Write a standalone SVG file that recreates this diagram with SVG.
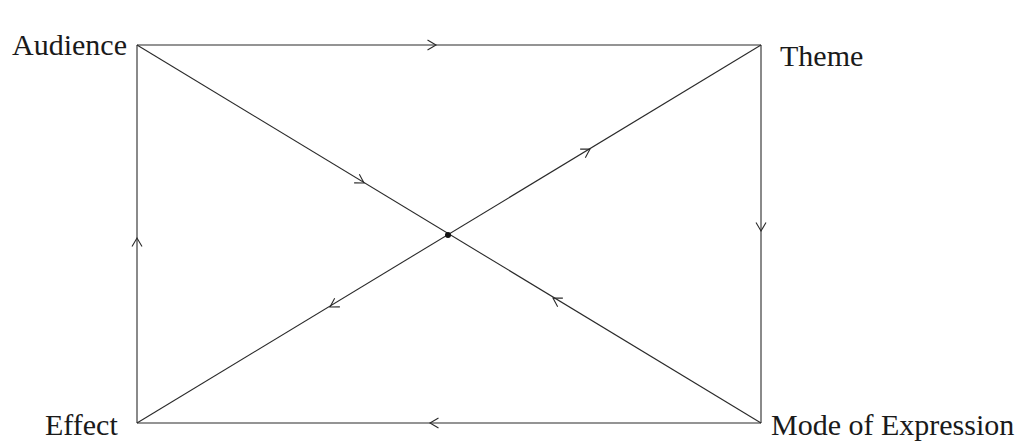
<svg xmlns="http://www.w3.org/2000/svg" width="1029" height="442" viewBox="0 0 1029 442">
<style>
.ln{stroke:#2a2a2a;stroke-width:1.1;fill:none}
.ah{stroke:#2a2a2a;stroke-width:1.1;fill:none}
.lbl{font-family:"Liberation Serif","Times New Roman",serif;font-size:30px;fill:#1a1a1a}
</style>
<defs>
<path id="chev" d="M-8.5,-5 L0,0 L-8.5,5"/>
</defs>
<rect width="1029" height="442" fill="#ffffff"/>
<g id="connectors">
<line class="ln" x1="137" y1="45" x2="761" y2="45"/>
<line class="ln" x1="761" y1="45" x2="761" y2="423"/>
<line class="ln" x1="761" y1="423" x2="137" y2="423"/>
<line class="ln" x1="137" y1="423" x2="137" y2="45"/>
<line class="ln" x1="137" y1="45" x2="761" y2="423"/>
<line class="ln" x1="137" y1="423" x2="761" y2="45"/>
<use href="#chev" class="ah" transform="translate(436,45)"/>
<use href="#chev" class="ah" transform="translate(761,231) rotate(90)"/>
<use href="#chev" class="ah" transform="translate(430,423) rotate(180)"/>
<use href="#chev" class="ah" transform="translate(137,238) rotate(-90)"/>
<use href="#chev" class="ah" transform="translate(364,183) rotate(31.2)"/>
<use href="#chev" class="ah" transform="translate(590,149) rotate(-31.2)"/>
<use href="#chev" class="ah" transform="translate(553,298) rotate(211.2)"/>
<use href="#chev" class="ah" transform="translate(330,307) rotate(148.8)"/>
</g>
<g id="center"><circle cx="448" cy="235" r="3" fill="#111"/></g>
<g id="audience"><text class="lbl" x="12" y="55">Audience</text></g>
<g id="theme"><text class="lbl" x="780" y="66">Theme</text></g>
<g id="effect"><text class="lbl" x="45" y="435">Effect</text></g>
<g id="mode"><text class="lbl" x="771" y="435">Mode of Expression</text></g>
</svg>
